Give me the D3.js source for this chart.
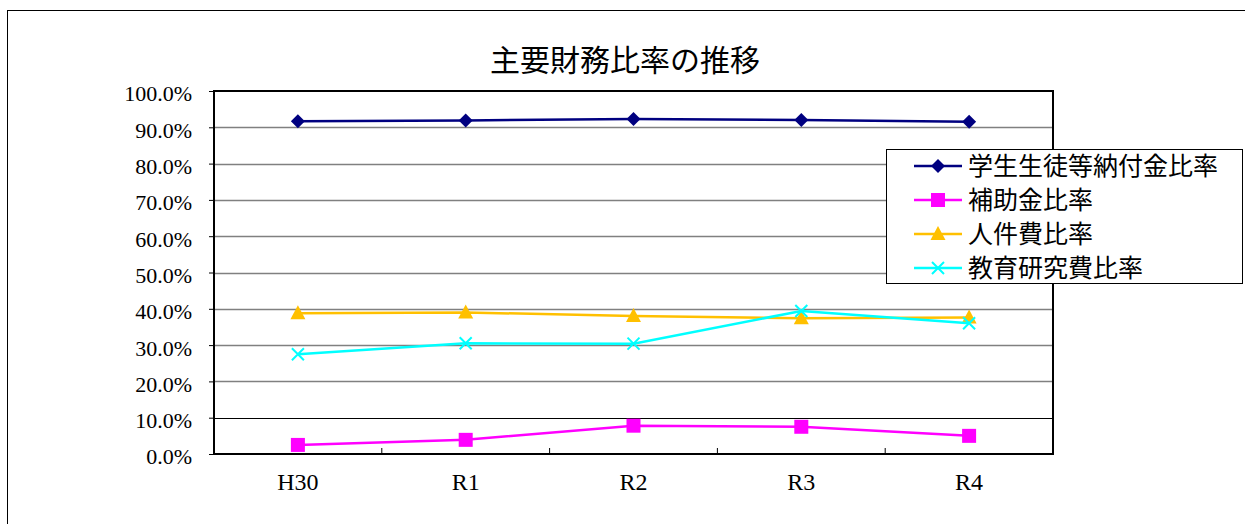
<!DOCTYPE html>
<html>
<head>
<meta charset="utf-8">
<script src="https://d3js.org/d3.v7.min.js"></script>
<style>
body { margin: 0; background: #fff; }
svg { display: block; }
text { font-family: "Liberation Serif", "DejaVu Serif", "Noto Sans CJK JP", serif; fill: #000; }
</style>
</head>
<body>
<div id="root"></div>
<script>
let categories = ['H30', 'R1', 'R2', 'R3', 'R4'];
let series_names = ['学生生徒等納付金比率', '補助金比率', '人件費比率', '教育研究費比率'];
let series_colors = ['#000080', '#ff00ff', '#ffc000', '#00ffff'];
let series_markers = ['diamond', 'square', 'triangle', 'cross'];
let tuition = [91.7, 91.9, 92.3, 92.0, 91.5];
let subsidy = [2.5, 3.9, 7.8, 7.5, 5.0];
let personnel = [38.8, 39.0, 38.0, 37.4, 37.6];
let research = [27.5, 30.5, 30.4, 39.4, 36.0];
let y_ticks = [0, 10, 20, 30, 40, 50, 60, 70, 80, 90, 100];

let all_values = [tuition, subsidy, personnel, research];

let width = 1245, height = 524;
let plot = { left: 214, top: 91, right: 1053, bottom: 454 };

let svg = d3.select('#root').append('svg')
    .attr('width', width)
    .attr('height', height);

// outer frame
svg.append('rect')
    .attr('x', 7.5).attr('y', 10.5)
    .attr('width', width).attr('height', height)
    .attr('fill', 'none').attr('stroke', '#000').attr('stroke-width', 1);

svg.append('text')
    .attr('x', 625).attr('y', 71)
    .attr('text-anchor', 'middle')
    .style('font-size', '30px')
    .style('font-family', '"Noto Sans CJK JP", sans-serif')
    .text('主要財務比率の推移');

let x = d3.scaleBand().domain(categories).range([plot.left, plot.right]);
let y = d3.scaleLinear().domain([0, 100]).range([plot.bottom, plot.top]);

// gridlines
svg.append('g')
    .selectAll('line')
    .data(y_ticks.slice(1, -1))
    .join('line')
    .attr('x1', plot.left).attr('x2', plot.right)
    .attr('y1', d => Math.round(y(d)) + 0.5).attr('y2', d => Math.round(y(d)) + 0.5)
    .attr('stroke', d => d === 10 ? '#000' : '#808080')
    .attr('stroke-width', d => d === 10 ? 1 : 1.5);

// y axis
let axis_y = svg.append('g')
    .attr('transform', `translate(${plot.left},0)`)
    .call(d3.axisLeft(y).tickValues(y_ticks).tickSize(5).tickPadding(17).tickFormat(d => d.toFixed(1) + '%'));
axis_y.select('.domain').remove();
axis_y.selectAll('text')
    .attr('dy', '0.45em')
    .style('font-size', '22px')
    .style('font-family', '"Liberation Serif", serif');

// x axis
let axis_x = svg.append('g')
    .attr('transform', `translate(0,${plot.bottom})`)
    .call(d3.axisBottom(x).tickSize(0).tickPadding(19));
axis_x.select('.domain').remove();
axis_x.selectAll('text')
    .style('font-size', '24px')
    .style('font-family', '"Liberation Serif", serif');

// category separators ticks
svg.append('g')
    .selectAll('line')
    .data(categories.slice(1))
    .join('line')
    .attr('x1', d => x(d)).attr('x2', d => x(d))
    .attr('y1', plot.bottom).attr('y2', plot.bottom - 6)
    .attr('stroke', '#000').attr('stroke-width', 1);

// plot border
svg.append('rect')
    .attr('x', plot.left).attr('y', plot.top)
    .attr('width', plot.right - plot.left).attr('height', plot.bottom - plot.top)
    .attr('fill', 'none').attr('stroke', '#000').attr('stroke-width', 2);

let cx = d => x(d) + x.bandwidth() / 2;

let draw_marker = (g, type, color) => {
    if (type === 'diamond') {
        g.append('path').attr('d', 'M0,-7L7,0L0,7L-7,0Z').attr('fill', color);
    } else if (type === 'square') {
        g.append('rect').attr('x', -7).attr('y', -7).attr('width', 14).attr('height', 14).attr('fill', color);
    } else if (type === 'triangle') {
        g.append('path').attr('d', 'M0,-8L7.5,6L-7.5,6Z').attr('fill', color);
    } else {
        g.append('path').attr('d', 'M-6,-6L6,6M-6,6L6,-6').attr('stroke', color).attr('stroke-width', 2).attr('fill', 'none');
    }
};

let line = d3.line().x((d, i) => cx(categories[i])).y(d => y(d));

all_values.forEach((vals, k) => {
    let g = svg.append('g');
    g.append('path')
        .datum(vals)
        .attr('d', line)
        .attr('fill', 'none')
        .attr('stroke', series_colors[k])
        .attr('stroke-width', 2.5);
    vals.forEach((v, i) => {
        let m = g.append('g').attr('transform', `translate(${cx(categories[i])},${y(v)})`);
        draw_marker(m, series_markers[k], series_colors[k]);
    });
});

// legend
let legend = svg.append('g');
legend.append('rect')
    .attr('x', 886.5).attr('y', 149.5)
    .attr('width', 356).attr('height', 134)
    .attr('fill', '#fff').attr('stroke', '#000').attr('stroke-width', 1);
series_names.forEach((name, k) => {
    let ly = 166 + k * 34;
    let row = legend.append('g');
    row.append('line')
        .attr('x1', 914).attr('x2', 962).attr('y1', ly).attr('y2', ly)
        .attr('stroke', series_colors[k]).attr('stroke-width', 2.5);
    draw_marker(row.append('g').attr('transform', `translate(938,${ly})`), series_markers[k], series_colors[k]);
    row.append('text')
        .attr('x', 968).attr('y', ly + 9)
        .style('font-size', '25px')
        .style('font-family', '"Noto Sans CJK JP", sans-serif')
        .text(name);
});
</script>
</body>
</html>
